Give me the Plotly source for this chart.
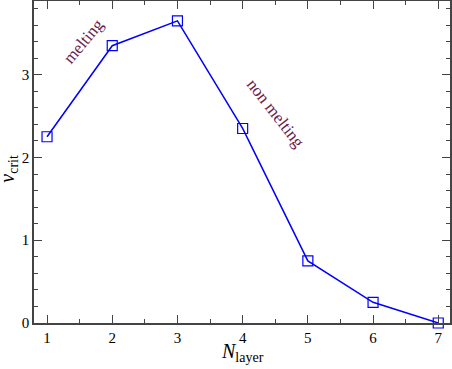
import plotly.graph_objects as go

n_layer = [1, 2, 3, 4, 5, 6, 7]
v_crit = [2.25, 3.35, 3.65, 2.35, 0.75, 0.25, 0.0]
x_ticks = [1, 2, 3, 4, 5, 6, 7]
y_ticks = [0, 1, 2, 3]

FONT = "Liberation Serif, Times New Roman, serif"
TXT = "#6b1d4d"

X_RANGE = [0.8, 7.18]
Y_RANGE = [0, 3.89]
ML, MR, MT, MB = 34, 2, 1, 46
W, H = 452, 369

fig = go.Figure()
fig.add_trace(go.Scatter(
    x=n_layer, y=v_crit, mode="lines+markers",
    line=dict(color="#0000ff", width=1.5),
    marker=dict(symbol="square-open", size=10, color="#0000ff", line=dict(width=1.2, color="#0000ff")),
    showlegend=False, cliponaxis=False,
))

axis_common = dict(
    showgrid=False, zeroline=False, showline=True, linecolor="#444", linewidth=1.5,
    mirror="allticks", ticks="inside", ticklen=8, tickwidth=1.3, tickcolor="#444",
    tickfont=dict(family=FONT, size=15, color="black"),
)
fig.update_xaxes(range=X_RANGE, tickvals=x_ticks,
                 minor=dict(dtick=0.5, ticks="inside", ticklen=4, tickcolor="#444", tickwidth=1.2),
                 **axis_common)
fig.update_yaxes(range=Y_RANGE, tickvals=y_ticks,
                 minor=dict(dtick=0.2, ticks="inside", ticklen=4, tickcolor="#444", tickwidth=1.2),
                 **axis_common)

fig.update_layout(
    width=W, height=H,
    margin=dict(l=ML, r=MR, t=MT, b=MB, autoexpand=False),
    paper_bgcolor="white", plot_bgcolor="white",
    font=dict(family=FONT, color="black"),
)


def px_to_data(px, py):
    x0, x1 = X_RANGE
    y0, y1 = Y_RANGE
    pl, pr, pt, pb = ML, W - MR, MT, H - MB
    xd = x0 + (px - pl) / (pr - pl) * (x1 - x0)
    yd = y1 - (py - pt) / (pb - pt) * (y1 - y0)
    return xd, yd


mx, my = px_to_data(83, 41)
fig.add_annotation(x=mx, y=my, text="melting", showarrow=False, textangle=-50,
                   font=dict(family=FONT, size=17, color=TXT))
nx, ny = px_to_data(276, 113)
fig.add_annotation(x=nx, y=ny, text="non melting", showarrow=False, textangle=52,
                   font=dict(family=FONT, size=17, color=TXT))

# axis titles
fig.add_annotation(xref="paper", yref="paper", x=0.5, y=-0.048, yanchor="top", xanchor="center",
                   text="<i>N</i><sub>layer</sub>", showarrow=False,
                   font=dict(family=FONT, size=20, color="black"))
fig.add_annotation(xref="paper", yref="paper", x=-0.062, y=0.48, xanchor="center", yanchor="middle",
                   text="<i>v</i><sub>crit</sub>", showarrow=False, textangle=-90, borderpad=0,
                   font=dict(family=FONT, size=20, color="black"))

fig.write_html("out.html", config={"displayModeBar": False},
               post_script="document.body.style.margin='0';document.body.style.overflow='hidden';")
